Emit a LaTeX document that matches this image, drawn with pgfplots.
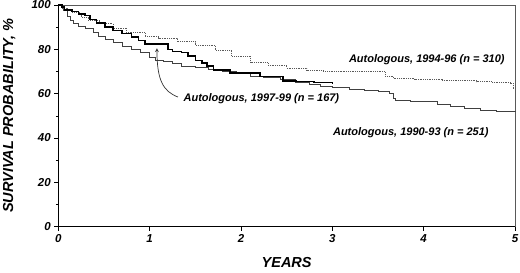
\documentclass[border=0pt]{standalone}
\usepackage{pgfplots}
\pgfplotsset{compat=1.18}
\usepackage{fontspec}
\setmainfont{Liberation Sans}
\begin{document}
\begin{tikzpicture}
\path[use as bounding box] (-58.3pt,-46.3pt) rectangle (461.7pt,226.7pt);
\begin{axis}[
  at={(0,0)}, anchor=south west,
  scale only axis, width=456.7pt, height=221.7pt,
  xmin=0, xmax=5, ymin=0, ymax=100,
  axis x line*=bottom, axis y line*=left,
  axis line style={black, line width=0.8pt},
  xtick={0,1,2,3,4,5}, ytick={0,20,40,60,80,100},
  minor ytick={10,30,50,70,90},
  tick align=outside, major tick length=4pt, minor tick length=2.5pt,
  tick style={black, line width=0.6pt},
  /pgf/number format/assume math mode=true,
  tick label style={font=\fontsize{11.5}{13}\selectfont\bfseries\itshape},
  xlabel={YEARS}, ylabel={SURVIVAL PROBABILITY, \%},
  every axis x label/.style={at={(rel axis cs:0.5,0)}, yshift=-36pt, anchor=center, font=\fontsize{14.5}{16}\selectfont\bfseries\itshape},
  every axis y label/.style={at={(rel axis cs:0,0.5)}, xshift=-49pt, rotate=90, anchor=center, font=\fontsize{14.5}{16}\selectfont\bfseries\itshape},
  clip=false,
]
\draw[gray!70!black, line width=0.8pt] (rel axis cs:0,1) -- (rel axis cs:1,1) -- (rel axis cs:1,0);
% 1990-93
\addplot[const plot, color=black!75, line width=0.9pt] coordinates {
(0,100) (0.03,99) (0.06,97.5) (0.1,95) (0.13,93) (0.17,91.5) (0.22,90.5) (0.3,89.5)
(0.38,87.5) (0.44,86) (0.52,84.5) (0.6,83) (0.7,81.5) (0.8,80) (0.9,78.5) (1.0,76.5)
(1.06,75.2) (1.15,74.5) (1.25,73.5) (1.35,72.5) (1.5,71.8) (1.64,70.8) (1.8,70.2)
(1.95,69) (2.1,67.8) (2.25,67.2) (2.43,66.3) (2.6,65.2) (2.75,64.2) (2.87,63.3)
(3.0,62.8) (3.19,62.0) (3.35,61.3) (3.5,60.8) (3.63,60.2) (3.67,58) (3.69,56.8)
(3.85,56.6) (4.03,56.3) (4.15,55.3) (4.29,54.3) (4.45,53.5) (4.62,52.5) (4.8,52.0)
(5.0,51.8)};
% 1994-96
\addplot[const plot, color=black!65, line width=0.8pt, densely dotted] coordinates {
(0,100) (0.05,98.5) (0.1,97.5) (0.15,96.5) (0.25,94.5) (0.33,93.2) (0.45,91.5)
(0.6,89.5) (0.75,87.5) (0.95,85.7) (1.1,85) (1.3,83.5) (1.5,81.8) (1.72,79.5)
(1.9,77) (2.1,73.9) (2.3,72.8) (2.5,71.5) (2.72,70.7) (2.9,70.2) (3.1,69.9)
(3.49,69.9) (3.58,68) (3.67,66.9) (3.9,66.5) (4.2,66) (4.58,65.4) (4.75,65)
(4.95,64.7) (4.98,62.5) (5.0,61.7)};
% 1997-99
\addplot[const plot, color=black, line width=1.6pt] coordinates {
(0,100) (0.04,99) (0.07,97.7) (0.15,97) (0.22,96) (0.29,95.3) (0.35,93.5) (0.42,92)
(0.51,90.2) (0.6,88.5) (0.7,87.2) (0.8,85.7) (0.88,84) (0.95,82.3) (1.17,82.3)
(1.2,80) (1.25,79) (1.35,78.5) (1.42,77) (1.5,75) (1.57,73.8) (1.63,72.5)
(1.70,70.8) (1.88,69.4) (2.21,67.7) (2.46,65.8) (2.6,65.5) (2.8,65.0) (3.0,64.7)};
\node[anchor=east, font=\fontsize{11}{13}\selectfont\bfseries\itshape] at (axis cs:4.925,75.2) {Autologous, 1994-96 (\textit{n} = 310)};
\node[anchor=west, font=\fontsize{11}{13}\selectfont\bfseries\itshape] at (axis cs:1.333,57.6) {Autologous, 1997-99 (\textit{n} = 167)};
\node[anchor=east, font=\fontsize{11}{13}\selectfont\bfseries\itshape] at (axis cs:4.75,42.3) {Autologous, 1990-93 (\textit{n} = 251)};
\draw[-stealth, black!80, line width=0.7pt] (axis cs:1.31,58.5) .. controls (axis cs:1.15,61) and (axis cs:1.08,66) .. (axis cs:1.08,80.5);
\end{axis}
\end{tikzpicture}
\end{document}
